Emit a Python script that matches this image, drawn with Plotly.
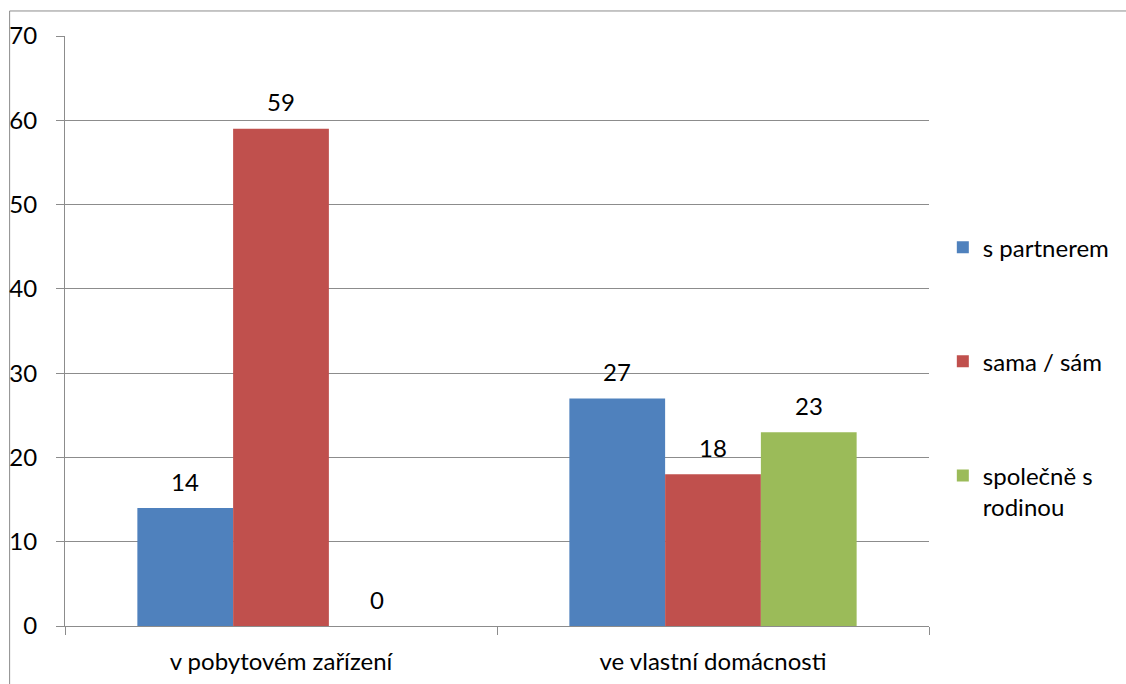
import plotly.graph_objects as go

categories = ["v pobytovém zařízení", "ve vlastní domácnosti"]
series_names = ["s partnerem", "sama / sám", "společně s<br>rodinou"]
s_partnerem = [14, 27]
sama_sam = [59, 18]
spolecne_s_rodinou = [0, 23]
colors = ["#4F81BD", "#C0504D", "#9BBB59"]
y_ticks = [0, 10, 20, 30, 40, 50, 60, 70]

FONT = "Lato, Open Sans, sans-serif"
FS = 24
GRID = "#8c8c8c"

W, H = 1126, 684
M = dict(l=65, r=195, t=36, b=58)
BARGAP = 0.335

all_series = [s_partnerem, sama_sam, spolecne_s_rodinou]

fig = go.Figure()
for i, (name, vals) in enumerate(zip(series_names, all_series)):
    fig.add_trace(go.Bar(
        x=categories, y=vals, name=name,
        marker=dict(color=colors[i], line=dict(width=0)),
        legendgroup=f"g{i}",
    ))

# value labels above each bar, offset horizontally by the group slot width
plot_w = W - M["l"] - M["r"]
slot_px = plot_w / len(categories) * (1 - BARGAP) / len(all_series)
annotations = []
for i, vals in enumerate(all_series):
    for cat, v in zip(categories, vals):
        annotations.append(dict(
            x=cat, y=v, xref="x", yref="y", text=str(v), showarrow=False,
            xshift=(i - (len(all_series) - 1) / 2) * slot_px, yshift=27,
            yanchor="middle", font=dict(size=FS, family=FONT, color="#000000"),
        ))

fig.update_layout(
    width=W, height=H,
    margin=M,
    paper_bgcolor="white", plot_bgcolor="white",
    barmode="group", bargap=BARGAP, bargroupgap=0,
    font=dict(family=FONT, size=FS, color="#000000"),
    showlegend=True,
    legend=dict(
        x=1.016, xanchor="left", y=0.6796, yanchor="top",
        traceorder="grouped", tracegroupgap=80, valign="top",
        font=dict(size=FS, family=FONT),
        bgcolor="rgba(0,0,0,0)",
    ),
    xaxis=dict(
        type="category", showline=True, linecolor=GRID, linewidth=1,
        ticks="outside", tickson="boundaries", ticklen=8, tickcolor=GRID,
        tickfont=dict(size=FS, family=FONT), showgrid=False, ticklabelstandoff=14,
        automargin=False,
    ),
    yaxis=dict(
        range=[0, 70], tickvals=y_ticks, showline=True, linecolor=GRID, linewidth=1,
        ticks="outside", ticklen=8, tickcolor=GRID,
        showgrid=True, gridcolor=GRID, gridwidth=1, zeroline=False,
        tickfont=dict(size=FS, family=FONT), ticklabelstandoff=14,
        automargin=False,
    ),
    annotations=annotations,
    shapes=[dict(
        type="rect", xref="paper", yref="paper",
        x0=-0.0641, x1=2.0, y0=-1.0, y1=1.0424,
        line=dict(color="#8c8c8c", width=1), fillcolor="rgba(0,0,0,0)", layer="below",
    )],
)

fig.write_html("out.html")
